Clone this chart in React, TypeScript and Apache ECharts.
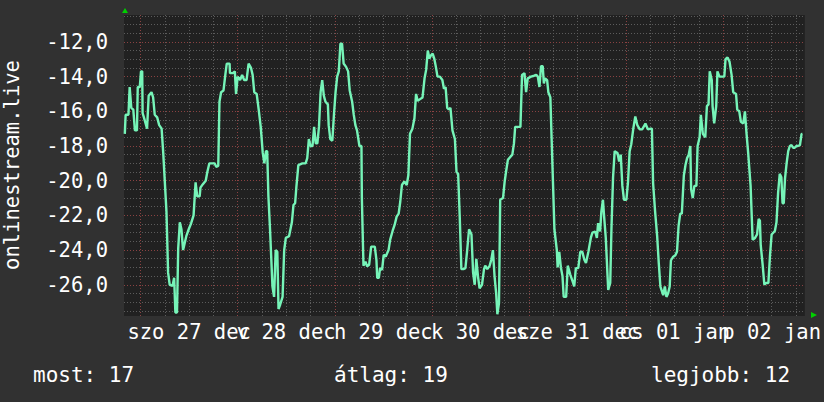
import React, { useEffect, useRef } from 'react';
import * as echarts from 'echarts';

// hours since 2025-12-27 00:00
const hours = [
  -3.9, -3.7, -3.0, -2.7, -2.3, -1.8, -1.4, -0.9, -0.7, -0.2, 0.1, 0.4, 0.5, 1.0, 1.6, 2.0, 2.7, 3.1, 3.5, 4.1,
  4.6, 5.2, 5.6, 6.0, 6.4, 6.8, 7.2, 7.9, 8.3, 8.6, 9.0, 9.3, 9.7, 10.1, 10.5, 10.7, 11.3, 11.9, 12.5, 13.1,
  13.6, 14.0, 14.6, 14.8, 15.4, 16.1, 16.5, 17.0, 18.3, 18.7, 19.2, 19.5, 19.9, 20.5, 21.0, 21.3, 22.0, 22.1, 22.8, 23.3,
  23.6, 24.0, 24.6, 25.1, 25.6, 26.2, 26.7, 27.3, 27.7, 28.1, 28.7, 29.2, 29.7, 30.2, 30.6, 31.0, 31.3, 31.6, 32.0, 32.6,
  33.0, 33.4, 33.8, 34.1, 34.5, 35.1, 35.5, 35.9, 36.7, 37.4, 37.8, 38.2, 38.5, 39.0, 40.0, 40.8, 41.2, 41.6, 42.0, 42.5,
  42.9, 43.3, 43.7, 44.1, 44.5, 44.9, 45.3, 45.7, 46.3, 46.5, 46.9, 47.4, 47.8, 48.2, 48.6, 49.0, 49.4, 49.8, 50.2, 50.8,
  51.3, 51.7, 52.3, 52.7, 53.1, 53.5, 54.1, 54.6, 54.7, 55.1, 55.6, 56.0, 56.5, 57.0, 57.9, 58.3, 58.5, 58.9, 59.2, 59.7,
  60.1, 60.6, 61.3, 61.7, 62.3, 62.8, 63.3, 63.8, 64.2, 64.6, 65.2, 65.8, 66.2, 66.6, 67.2, 67.7, 68.1, 68.5, 69.1, 69.7,
  70.2, 70.6, 71.0, 71.4, 71.8, 72.2, 72.6, 73.0, 73.4, 74.0, 74.6, 75.0, 75.4, 75.8, 76.2, 76.6, 77.1, 77.7, 78.1, 78.5,
  78.9, 79.3, 79.8, 80.3, 80.7, 81.2, 81.8, 82.2, 82.6, 83.0, 83.4, 83.8, 84.4, 84.9, 85.2, 85.7, 86.3, 86.7, 87.1, 87.5,
  87.9, 88.2, 88.6, 88.9, 89.6, 90.0, 90.4, 90.8, 91.5, 91.9, 92.3, 92.6, 93.9, 94.3, 94.9, 95.3, 95.7, 96.5, 97.3, 97.8,
  98.2, 98.6, 99.0, 99.4, 99.7, 100.0, 100.5, 100.8, 101.3, 101.6, 102.0, 102.3, 102.9, 103.1, 103.5, 103.9, 104.3, 104.6, 105.2, 105.6,
  106.2, 106.8, 107.2, 107.6, 108.2, 108.7, 109.2, 109.7, 110.1, 110.7, 111.3, 111.7, 112.4, 112.8, 113.1, 113.6, 113.9, 114.3, 114.6, 115.0,
  115.6, 116.1, 116.4, 116.8, 117.2, 117.9, 118.3, 118.7, 119.1, 119.5, 120.1, 120.5, 120.9, 121.3, 121.8, 122.3, 122.8, 123.4, 124.0, 124.6,
  124.8, 125.4, 126.1, 126.4, 126.7, 127.2, 127.7, 128.1, 128.5, 129.2, 129.6, 130.0, 130.4, 130.8, 131.1, 131.6, 132.2, 132.6, 133.0, 133.4,
  133.8, 134.3, 134.7, 135.1, 135.5, 135.9, 136.1, 136.5, 136.9, 137.4, 137.7, 138.2, 138.5, 139.0, 139.6, 140.0, 140.4, 140.7, 141.2, 141.4,
  141.8, 142.3, 142.6, 143.1, 144.3, 144.6, 145.1, 145.6, 146.1, 146.5, 147.2, 147.5, 148.0, 148.4, 149.0, 149.4, 149.8, 150.2, 150.8, 151.3,
  151.9, 152.4, 152.8, 153.1, 153.3, 153.8, 154.2, 154.6, 155.2, 155.6, 156.0, 156.4, 156.8, 157.2, 157.6, 158.0, 158.4, 158.7, 159.0, 159.3,
  159.7, 160.1, 160.5, 160.9, 161.3, 161.7, 162.1, 162.5, 163.0, 163.4, 163.6,
];

const temps = [
  -17.3, -16.2, -16.2, -14.6, -15.8, -15.9, -17.1, -17.1, -14.6, -14.6, -13.7, -13.7, -16.1, -16.5, -17.0, -15.1, -14.9, -15.2, -16.2, -16.35,
  -16.8, -17.0, -18.4, -20.1, -21.8, -25.3, -26.0, -26.06, -25.6, -27.6, -27.6, -23.9, -22.4, -22.8, -24.0, -23.8, -23.2, -22.8, -22.45, -22.0,
  -20.1, -20.9, -20.9, -20.4, -20.2, -20.0, -19.5, -19.0, -19.0, -19.2, -19.15, -15.45, -14.9, -14.8, -13.8, -13.25, -13.25, -13.8, -13.8, -13.7,
  -15.0, -14.0, -14.2, -13.9, -14.2, -14.2, -13.25, -13.5, -13.9, -14.9, -15.0, -15.9, -16.9, -18.4, -19.0, -18.3, -18.3, -20.9, -22.8, -26.1,
  -26.7, -24.0, -24.1, -27.4, -27.15, -26.7, -24.0, -23.3, -23.2, -22.4, -21.4, -21.3, -20.4, -19.1, -19.0, -19.0, -18.7, -17.6, -18.0, -18.0,
  -16.9, -17.85, -17.85, -16.9, -14.9, -14.2, -15.1, -15.45, -15.6, -16.8, -17.6, -17.7, -16.2, -14.9, -14.0, -13.7, -12.1, -12.1, -13.25, -13.44,
  -13.7, -14.8, -15.45, -16.2, -16.8, -17.1, -18.0, -18.0, -21.0, -24.9, -24.66, -24.94, -24.85, -23.8, -23.8, -24.56, -25.6, -25.6, -25.04, -25.14,
  -24.27, -24.37, -24.0, -23.4, -22.9, -22.55, -22.07, -21.9, -21.2, -20.25, -20.05, -20.25, -19.67, -17.3, -17.0, -16.4, -15.0, -15.4, -15.3, -15.2,
  -14.1, -13.6, -12.5, -12.96, -12.77, -12.67, -12.96, -13.44, -14.0, -14.0, -14.2, -14.7, -14.6, -15.8, -15.9, -15.8, -17.1, -17.6, -19.5, -19.6,
  -22.1, -25.1, -25.1, -25.04, -24.1, -22.8, -23.1, -25.3, -26.0, -24.5, -25.5, -26.2, -26.0, -25.1, -24.9, -25.1, -24.9, -24.56, -24.0, -25.5,
  -26.5, -27.7, -27.05, -21.1, -21.0, -20.05, -19.4, -18.8, -18.6, -18.5, -17.85, -16.9, -16.9, -13.9, -13.8, -14.9, -14.1, -14.0, -13.95, -13.9,
  -14.0, -14.6, -13.4, -13.4, -14.4, -14.1, -14.2, -14.9, -15.2, -17.5, -20.5, -22.8, -24.0, -25.0, -24.1, -25.0, -25.5, -26.7, -26.7, -24.9,
  -25.4, -25.8, -26.1, -25.04, -25.04, -24.1, -24.1, -24.56, -24.75, -24.1, -23.3, -23.0, -22.93, -23.3, -22.45, -22.93, -21.8, -21.1, -22.1, -23.3,
  -26.3, -25.9, -22.8, -19.8, -18.3, -18.4, -18.9, -18.5, -20.3, -21.1, -21.1, -20.05, -18.3, -17.9, -17.0, -16.3, -16.8, -17.04, -17.04, -16.8,
  -16.7, -17.04, -17.0, -17.0, -20.15, -21.8, -23.2, -24.75, -26.1, -26.6, -26.1, -26.7, -26.5, -26.1, -24.6, -24.4, -24.3, -24.1, -22.6, -21.9,
  -21.9, -19.7, -19.1, -18.7, -18.5, -18.0, -20.5, -21.0, -20.3, -20.3, -18.0, -17.5, -16.2, -17.3, -17.5, -15.7, -15.6, -13.7, -14.2, -15.7,
  -16.7, -15.7, -13.7, -14.0, -14.0, -13.0, -12.9, -13.15, -13.9, -14.9, -15.0, -15.9, -16.0, -16.6, -16.7, -16.0, -17.3, -18.4, -20.3, -23.4,
  -23.3, -23.1, -22.2, -22.3, -23.7, -24.9, -26.0, -25.9, -25.9, -24.3, -23.1, -23.0, -22.9, -22.4, -20.7, -19.6, -19.8, -21.3, -21.3, -19.9,
  -19.0, -18.3, -18.0, -17.95, -18.1, -18.1, -18.0, -18.0, -17.95, -17.3, -17.3,
];

const dayLabels = ['szo 27 dec', 'v 28 dec', 'h 29 dec', 'k 30 dec', 'sze 31 dec', 'cs 01 jan', 'p 02 jan'];
const dayLabelHours = [12, 36, 60, 84, 108, 132, 156];
const yTickValues = [-26, -24, -22, -20, -18, -16, -14, -12];
const legendLabels = ['most', 'átlag', 'legjobb'];
const legendValues = [17, 19, 12];
const axisTitle = 'onlinestream.live';

const X_MIN = -4.1;
const X_MAX = 164.2;
const Y_MIN = -27.8;
const Y_MAX = -10.45;

const FONT = "'DejaVu Sans Mono', monospace";

export default function App() {
  const ref = useRef<HTMLDivElement>(null);

  useEffect(() => {
    if (!ref.current) return;
    const chart = echarts.init(ref.current, undefined, { renderer: 'svg' });

    const majorV: number[] = [];
    const minorV: number[] = [];
    for (let h = 0; h <= X_MAX; h += 6) {
      if (h % 24 === 0) majorV.push(h);
      else minorV.push(h);
    }
    const majorH: number[] = [];
    const minorH: number[] = [];
    for (let k = -55; k <= -21; k++) {
      const v = k / 2;
      if (v < Y_MIN || v > Y_MAX) continue;
      if (Number.isInteger(v) && v % 2 === 0) majorH.push(v);
      else minorH.push(v);
    }

    const minorStyle = { color: '#5c5c5c', width: 1, type: [1, 2] as any };
    const majorStyle = { color: '#8a4242', width: 1, type: [1, 2] as any };

    const seriesData = hours.map((h, i) => [h, temps[i]]);

    const legendX = [33, 334, 651];

    // split day labels into two alternating sets so that ECharts does not drop overlapping ones
    const makeXAxis = (parity: number) => {
      const vals = dayLabelHours.filter((_, i) => i % 2 === parity);
      return {
        type: 'value',
        min: X_MIN,
        max: X_MAX,
        position: 'bottom',
        axisLine: { show: false },
        axisTick: { show: false },
        splitLine: { show: false },
        axisLabel: {
          customValues: vals,
          formatter: (v: number) => {
            const i = dayLabelHours.indexOf(Math.round(v));
            return i >= 0 ? dayLabels[i] : '';
          },
          color: '#ffffff',
          fontFamily: FONT,
          fontSize: 20.5,
          margin: 5,
          hideOverlap: false,
          showMinLabel: true,
          showMaxLabel: true,
        },
      };
    };

    chart.setOption({
      animation: false,
      backgroundColor: '#313131',
      grid: {
        left: 124,
        top: 15,
        width: 685,
        height: 301,
        show: true,
        backgroundColor: '#212121',
        borderWidth: 0,
      },
      xAxis: [makeXAxis(0), makeXAxis(1)],
      yAxis: {
        type: 'value',
        min: Y_MIN,
        max: Y_MAX,
        axisLine: { show: false },
        axisTick: { show: false },
        splitLine: { show: false },
        axisLabel: {
          customValues: yTickValues,
          formatter: (v: number) => v.toFixed(1).replace('.', ','),
          color: '#ffffff',
          fontFamily: FONT,
          fontSize: 20.5,
          margin: 16,
          showMinLabel: true,
          showMaxLabel: true,
        },
      },
      series: [
        {
          type: 'line',
          data: [],
          z: 1,
          silent: true,
          markLine: {
            silent: true,
            symbol: ['none', 'none'],
            label: { show: false },
            lineStyle: minorStyle,
            data: [
              ...minorV.map((v) => ({ xAxis: v })),
              ...minorH.map((v) => ({ yAxis: v })),
            ],
          },
        },
        {
          type: 'line',
          data: [],
          z: 2,
          silent: true,
          markLine: {
            silent: true,
            symbol: ['none', 'none'],
            label: { show: false },
            lineStyle: majorStyle,
            data: [
              ...majorV.map((v) => ({ xAxis: v })),
              ...majorH.map((v) => ({ yAxis: v })),
            ],
          },
        },
        {
          type: 'line',
          data: seriesData,
          z: 5,
          showSymbol: false,
          symbol: 'none',
          lineStyle: { color: '#76f4b8', width: 2.4 },
          silent: true,
        },
      ],
      graphic: [
        {
          type: 'text',
          x: 12,
          y: 165,
          rotation: Math.PI / 2,
          style: {
            text: axisTitle,
            fill: '#ffffff',
            font: `20.5px ${FONT}`,
            align: 'center',
            verticalAlign: 'middle',
          },
        },
        ...legendLabels.map((l, i) => ({
          type: 'text',
          x: legendX[i],
          y: 375,
          style: {
            text: `${l}: ${legendValues[i]}`,
            fill: '#ffffff',
            font: `21px ${FONT}`,
            align: 'left',
            verticalAlign: 'middle',
          },
        })),
        {
          type: 'polygon',
          shape: { points: [[122, 13], [128, 13], [125, 8]] },
          style: { fill: '#00d000' },
        },
        {
          type: 'polygon',
          shape: { points: [[811, 312], [811, 318], [817, 315]] },
          style: { fill: '#00d000' },
        },
      ],
    });

    return () => chart.dispose();
  }, []);

  return (
    <div
      ref={ref}
      style={{ position: 'fixed', left: 0, top: 0, width: 824, height: 402 }}
    />
  );
}
